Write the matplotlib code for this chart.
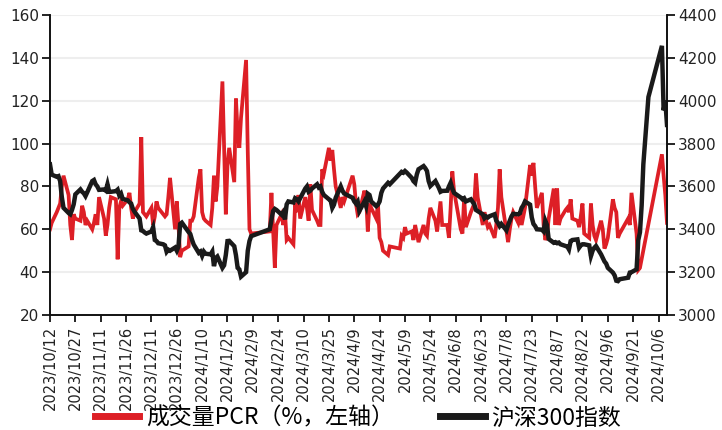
import pandas as pd
import matplotlib.pyplot as plt
from matplotlib.lines import Line2D

# Trading calendar (SSE holidays removed)
holidays = ['2024-01-01', '2024-02-09', '2024-02-12', '2024-02-13', '2024-02-14',
            '2024-02-15', '2024-02-16', '2024-04-04', '2024-04-05', '2024-05-01',
            '2024-05-02', '2024-05-03', '2024-06-10', '2024-09-16', '2024-09-17',
            '2024-10-01', '2024-10-02', '2024-10-03', '2024-10-04', '2024-10-07']
trade_days = pd.bdate_range('2023-10-12', '2024-10-11')
trade_days = trade_days[~trade_days.isin(pd.to_datetime(holidays))]

# 成交量PCR (%), one value per trading day, None = missing
pcr = [
    60, 63, 68, 70, 72, 80, 85, 76, 62, 55, 67, 65, 64, 71,                      # 2023-10
    68, 62, 64, 60, 63, 67, 62, 75, 65, 57, 62, 70, 75, 74, 46, 70, 73, 71,
    74, 77, 70, 65,                                                              # 2023-11
    68, 72, 103, 68, 67, 66, 70, 62, 66, 73, 70, 67, 66, 67, 75, 84, 60, 73,
    62, 47, 50,                                                                  # 2023-12
    52, 64, 64, 66, 84, 88, 68, 65, 64, 62, 70, 85, 73, 80, 129, 98, 67, 90,
    98, 82, 121, 105,                                                            # 2024-01
    98, 112, 139, 96, 60, 58, 59, 77, 60, 42, 62, 67, 62, 68, 55,                # 2024-02
    56, 53, 72, 68, 76, 65, 75, 70, 64, 81, 69, 64, 62, 62, 88, 86, 98, 92,
    97, 88, 80,                                                                  # 2024-03
    70, 75, 73, 85, 81, 72, 67, 68, 78, 75, 59, 72, 70, 65, 72, 56, 54, 50,
    48, 52,                                                                      # 2024-04
    51, 57, 56, 61, 58, 59, 55, 62, 58, 54, 62, 58, 57, 65, 70, 64, 59, 66,
    73, 62,                                                                      # 2024-05
    62, 56, 70, 87, 78, 60, 58, 75, 61, 68, 70, 72, 86, 75, 62, 68, 64, 61, 62,  # 2024-06
    56, 62, 70, 88, 75, 59, 54, 60, 65, 68, 63, 67, 62, 66, 70, 90, 85, 91,
    80, 70, 77, 62, 55,                                                          # 2024-07
    57, 65, 79, 62, 79, 62, 65, 69, 70, 68, 74, 65, 64, 61, 66, 72, 58, 56,
    72, 62, 57, 55,                                                              # 2024-08
    64, 60, 51, 53, 56, 74, 70, 68, 56, 58, 65, 62, 77, 58, 41, 42,
    None, None, None,                                                            # 2024-09
    95, 85, 76, 63,                                                              # 2024-10
]

# 沪深300指数 close
hs300 = [
    3703, 3655, 3645, 3648, 3625, 3550, 3500, 3476, 3470, 3490, 3516, 3563,
    3586, 3575,                                                                  # 2023-10
    3568, 3555, 3572, 3625, 3630, 3610, 3600, 3584, 3586, 3580, 3610, 3575,
    3575, 3578, 3585, 3558, 3567, 3542, 3535, 3526, 3520, 3496,                  # 2023-11
    3482, 3450, 3395, 3392, 3385, 3380, 3390, 3410, 3350, 3345, 3335, 3330,
    3325, 3295, 3305, 3300, 3315, 3300, 3320, 3425, 3431,                        # 2023-12
    3387, 3378, 3351, 3329, 3290, 3296, 3276, 3296, 3286, 3283, 3296, 3228,
    3266, 3273, 3220, 3232, 3280, 3345, 3346, 3321, 3279, 3220,                  # 2024-01
    3213, 3179, 3200, 3300, 3345, 3368, 3400, 3445, 3485, 3495, 3490, 3468,
    3480, 3446, 3516,                                                            # 2024-02
    3530, 3525, 3545, 3540, 3530, 3545, 3590, 3600, 3575, 3580, 3590, 3610,
    3595, 3600, 3575, 3560, 3540, 3535, 3500, 3515, 3547,                        # 2024-03
    3600, 3580, 3567, 3547, 3530, 3520, 3530, 3485, 3530, 3508, 3566, 3560,
    3530, 3508, 3515, 3530, 3570, 3590, 3617, 3610,                              # 2024-04
    3660, 3668, 3664, 3672, 3665, 3640, 3625, 3617, 3656, 3680, 3695, 3685,
    3672, 3625, 3602, 3625, 3610, 3594, 3575, 3579,                              # 2024-05
    3580, 3600, 3617, 3590, 3570, 3548, 3540, 3545, 3530, 3540, 3528, 3516,
    3490, 3485, 3470, 3452, 3460, 3455, 3461,                                    # 2024-06
    3470, 3440, 3430, 3415, 3425, 3395, 3420, 3440, 3460, 3472, 3470, 3475,
    3500, 3512, 3530, 3515, 3455, 3425, 3415, 3400, 3398, 3390, 3440,            # 2024-07
    3420, 3355, 3337, 3340, 3335, 3338, 3330, 3322, 3320, 3306, 3345, 3350,
    3353, 3314, 3325, 3330, 3330, 3325, 3275, 3300, 3314, 3322,                  # 2024-08
    3283, 3267, 3250, 3240, 3220, 3198, 3185, 3160, 3158, 3167, 3174, 3198,
    3200, 3213, 3349, 3386, 3510, 3703, 4017,                                    # 2024-09
    4256, 3955, 4001, 3887,                                                      # 2024-10
]

left_ticks = [20, 40, 60, 80, 100, 120, 140, 160]
right_ticks = [3000, 3200, 3400, 3600, 3800, 4000, 4200, 4400]
date_ticks = pd.date_range('2023-10-12', '2024-10-06', freq='15D')

RED = '#dd1f26'
BLACK = '#1a1a1a'

plt.rcParams['font.family'] = ['DejaVu Sans']

fig = plt.figure(figsize=(7.22, 4.30), dpi=100)
ax = fig.add_axes([50 / 722, 1 - 315 / 430, 617 / 722, 300 / 430])
ax2 = ax.twinx()

pcr_s = pd.Series(pcr, index=trade_days, dtype=float).dropna()
hs_s = pd.Series(hs300, index=trade_days, dtype=float)

ax.plot(pcr_s.index, pcr_s.values, color=RED, lw=2.7, solid_joinstyle='miter')
ax2.plot(hs_s.index, hs_s.values, color=BLACK, lw=3.2, solid_joinstyle='miter')

ax.set_xlim(pd.Timestamp('2023-10-12'), pd.Timestamp('2024-10-11'))
ax.set_ylim(20, 160)
ax2.set_ylim(3000, 4400)
ax.set_yticks(left_ticks)
ax2.set_yticks(right_ticks)

ax.set_xticks(date_ticks)
ax.set_xticklabels([f'{d.year}/{d.month}/{d.day}' for d in date_ticks],
                   rotation=90, fontsize=10.5, color='#222222')
ax.tick_params(axis='x', direction='out', length=5, width=1.2, pad=3)
ax.tick_params(axis='y', direction='out', length=6, width=1.2, labelsize=11,
               labelcolor='#222222', pad=2)
ax2.tick_params(axis='y', direction='out', length=6, width=1.2, labelsize=11,
                labelcolor='#222222', pad=2)

ax.grid(axis='y', color='#eeeeee', lw=1.5)
ax.set_axisbelow(True)
for a in (ax, ax2):
    a.spines['top'].set_visible(False)
    for s in ('left', 'right', 'bottom'):
        a.spines[s].set_linewidth(1.2)
        a.spines[s].set_color('#111111')

handles = [Line2D([], [], color=RED, lw=5),
           Line2D([], [], color=BLACK, lw=5)]
fig.legend(handles, ['成交量PCR（%，左轴）', '沪深300指数'],
           loc='center', bbox_to_anchor=(358 / 722, 1 - 418 / 430), ncol=2,
           frameon=False, handlelength=1.95, handletextpad=0.3, columnspacing=2.0,
           borderpad=0.1,
           prop={'family': ['Noto Sans CJK SC', 'DejaVu Sans'], 'size': 16.5})

fig.savefig('out.png', dpi=100, facecolor='white')
